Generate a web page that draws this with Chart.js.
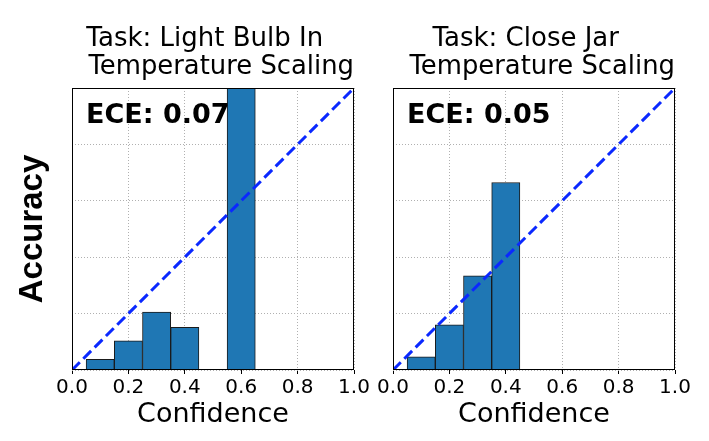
<!DOCTYPE html>
<html>
<head>
<meta charset="utf-8">
<script src="https://cdn.jsdelivr.net/npm/chart.js@4/dist/chart.umd.min.js"></script>
<style>
  html, body { margin: 0; padding: 0; background: #fff; }
  #wrap { position: relative; width: 709px; height: 441px; }
  #wrap canvas { position: absolute; left: 0; top: 0; }
</style>
</head>
<body>
<div id="wrap">
  <canvas id="left" width="709" height="441"></canvas>
  <canvas id="right" width="709" height="441"></canvas>
</div>
<script>
// ======= Data =======
const xTicks = [0, 0.2, 0.4, 0.6, 0.8, 1.0];

const lightBulbCenters = [0.1, 0.2, 0.3, 0.4, 0.6];
const lightBulbAcc     = [0.038, 0.103, 0.205, 0.151, 1.0];
const lightBulbEce     = 0.07;
const lightBulbTitle   = ["Task: Light Bulb In  ", "  Temperature Scaling"];

const closeJarCenters  = [0.1, 0.2, 0.3, 0.4];
const closeJarAcc      = [0.047, 0.16, 0.334, 0.665];
const closeJarEce      = 0.05;
const closeJarTitle    = ["Task: Close Jar  ", "  Temperature Scaling"];

const diagX = [0, 1];
const diagY = [0, 1];

// ======= Helpers =======
const FONT = "'DejaVu Sans', sans-serif";

// frame around plot area + ECE label
const framePlugin = {
  id: "frame",
  afterDatasetsDraw(chart, args, opts) {
    const { ctx, chartArea: a } = chart;
    ctx.save();
    ctx.font = "bold 27px " + FONT;
    ctx.fillStyle = "#000";
    ctx.textBaseline = "alphabetic";
    ctx.fillText("ECE: " + opts.ece.toFixed(2), a.left + 14, a.top + 35);
    ctx.strokeStyle = "#000";
    ctx.lineWidth = 1;
    ctx.strokeRect(Math.round(a.left) + 0.5, Math.round(a.top) + 0.5,
                   Math.round(a.right - a.left) - 1, Math.round(a.bottom - a.top) - 1);
    ctx.restore();
  }
};

function build(id, centers, acc, ece, title, axisW, padRight, showYTitle) {
  const bars = centers.map((c, i) => ({ x: c, y: acc[i] }));
  const diag = diagX.map((x, i) => ({ x, y: diagY[i] }));
  return new Chart(document.getElementById(id), {
    type: "bar",
    data: {
      datasets: [
        {
          type: "bar",
          data: bars,
          backgroundColor: "#1f77b4",
          borderColor: "#1a1a1a",
          borderWidth: 1,
          barPercentage: 1,
          categoryPercentage: 1,
          order: 2
        },
        {
          type: "line",
          data: diag,
          borderColor: "#0a28ff",
          borderWidth: 3,
          borderDash: [11, 5],
          pointRadius: 0,
          fill: false,
          order: 1
        }
      ]
    },
    options: {
      responsive: false,
      animation: false,
      layout: { padding: { left: 0, right: padRight, top: 0, bottom: 0 } },
      plugins: {
        legend: { display: false },
        tooltip: { enabled: false },
        title: {
          display: true,
          fullSize: false,
          text: title,
          color: "#000",
          font: { family: FONT, size: 26, weight: "normal", lineHeight: 1.077 },
          padding: { top: 25, bottom: 7 }
        },
        frame: { ece }
      },
      scales: {
        x: {
          type: "linear",
          min: 0,
          max: 1,
          offset: false,
          afterBuildTicks: s => { s.ticks = xTicks.map(v => ({ value: v })); },
          afterFit: s => { s.height = 71; },
          ticks: {
            color: "#000",
            padding: 2,
            maxRotation: 0,
            font: { family: FONT, size: 20 },
            callback: v => v.toFixed(1)
          },
          grid: {
            offset: false,
            color: "#b0b0b0",
            lineWidth: 1,
            tickLength: 4,
            tickColor: "#000",
            tickWidth: 1
          },
          border: { display: false, dash: [1, 2] },
          title: {
            display: true,
            text: "Confidence",
            color: "#000",
            font: { family: FONT, size: 27 },
            padding: { top: 0, bottom: 10 }
          }
        },
        y: {
          min: 0,
          max: 1,
          afterBuildTicks: s => { s.ticks = xTicks.map(v => ({ value: v })); },
          afterFit: s => { s.width = axisW; },
          ticks: { display: false },
          grid: { color: "#b0b0b0", lineWidth: 1, drawTicks: false },
          border: { display: false, dash: [1, 2] },
          title: {
            display: showYTitle,
            text: "Accuracy",
            color: "#000",
            font: { family: "'Liberation Sans', Arial, sans-serif", size: 33, weight: "bold", lineHeight: 1.2 },
            padding: { top: 13, bottom: 0 }
          }
        }
      }
    },
    plugins: [framePlugin]
  });
}

build("left", lightBulbCenters, lightBulbAcc, lightBulbEce, lightBulbTitle, 72, 355, true);
build("right", closeJarCenters, closeJarAcc, closeJarEce, closeJarTitle, 393, 34, false);
</script>
</body>
</html>
